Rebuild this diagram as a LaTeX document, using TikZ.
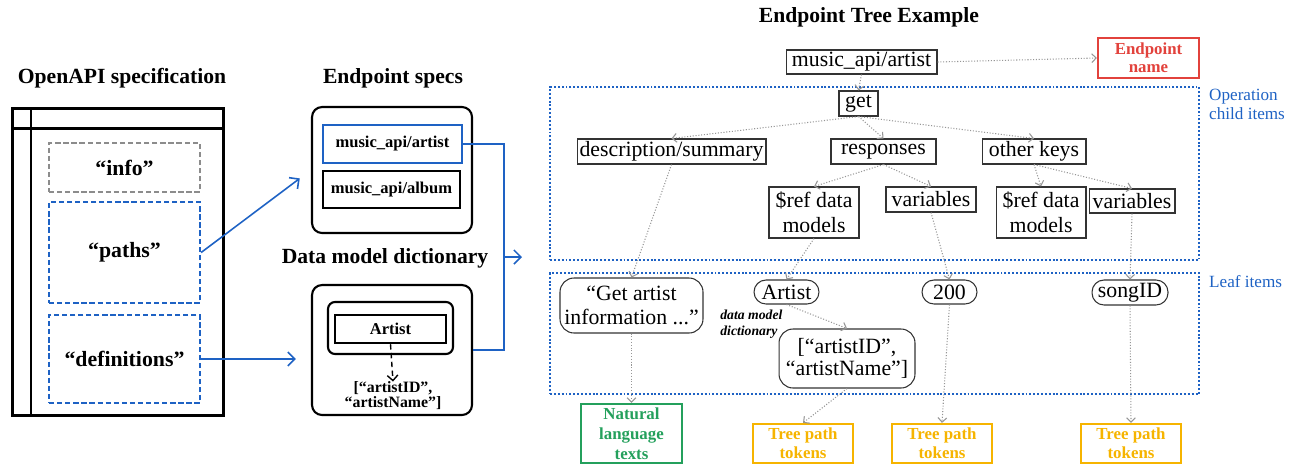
\documentclass[tikz,border=0pt]{standalone}
\usepackage{fontspec}
\setmainfont{Liberation Serif}
\usepackage{tikz}
\usetikzlibrary{arrows.meta, positioning}

\definecolor{specblue}{RGB}{30,98,196}
\definecolor{namered}{RGB}{226,66,60}
\definecolor{textgreen}{RGB}{36,160,92}
\definecolor{tokenorange}{RGB}{246,180,0}
\definecolor{linkgray}{RGB}{150,150,150}

\begin{document}
\begin{tikzpicture}[x=0.02cm, y=-0.02cm,
  title/.style={font=\fontsize{12.3}{14}\selectfont\bfseries},
  frame/.style={draw, line width=1.7pt},
  section/.style={draw=specblue, dash pattern=on 3pt off 1.6pt, line width=1.3pt, minimum width=3.02cm, inner sep=0pt, font=\fontsize{12.4}{14}\selectfont\bfseries},
  holder/.style={draw, rounded corners=0.2cm, line width=1.2pt, minimum width=3.2cm, inner sep=0pt},
  entry/.style={draw, line width=1.4pt, inner sep=0pt, font=\fontsize{9.4}{10}\selectfont\bfseries},
  area/.style={draw=specblue, dash pattern=on 1.1pt off 1.1pt, line width=1.1pt, minimum width=12.98cm, inner sep=0pt},
  areatext/.style={text=specblue, anchor=west, align=left, font=\fontsize{9.75}{10.8}\selectfont},
  treebox/.style={draw=black!80, line width=0.6pt, inner sep=0pt, align=center, font=\fontsize{12.4}{14.2}\selectfont},
  leaf/.style={treebox, rounded corners=0.24cm},
  outbox/.style={draw, line width=1.3pt, inner sep=0pt, align=center, font=\fontsize{9.6}{11}\selectfont\bfseries},
  bluearrow/.style={draw=specblue, line width=0.9pt, -{Straight Barb[length=4pt, width=8pt]}},
  blueline/.style={draw=specblue, line width=0.9pt},
  link/.style={draw=linkgray, densely dotted, line width=0.6pt, -{Straight Barb[length=2.5pt, width=5pt]}}
]
  \useasboundingbox (0,0) rectangle (1293,464);

  % OpenAPI specification
  \node[title] (opentitle) at (122,78) {OpenAPI specification};
  \node[frame, minimum width=4.24cm, minimum height=6.16cm, inner sep=0pt] (spec) at (118,262) {};
  \draw[frame] (31,108) -- (31,416);
  \draw[frame] (12,128) -- (224,128);
  \node[section, draw=black!45, minimum height=0.98cm] (info) at (124.5,167.5) {“info”};
  \node[section, minimum height=2.02cm] (paths) at (124.5,252.5) {“paths”};
  \node[section, minimum height=1.76cm] (defs) at (124.5,359) {“definitions”};

  % endpoint specs and data models
  \node[title] (spectitle) at (393,78) {Endpoint specs};
  \node[holder, minimum height=2.52cm] (specbox) at (392,170) {};
  \node[entry, draw=specblue, minimum width=2.78cm, minimum height=0.76cm] (ep1) at (392.5,144) {music\_api/artist};
  \node[entry, minimum width=2.74cm, minimum height=0.74cm] (ep2) at (391.5,189.5) {music\_api/album};
  \node[title] (dicttitle) at (385,258) {Data model dictionary};
  \node[holder, minimum height=2.6cm] (dmbox) at (392,350) {};
  \node[draw, rounded corners=0.14cm, line width=1.2pt, minimum width=2.5cm, minimum height=1.04cm] (dmin) at (390.5,328) {};
  \node[entry, minimum width=2.22cm, minimum height=0.56cm] (dartist) at (390.5,329) {Artist};
  \node[font=\fontsize{9}{8.6}\selectfont\bfseries, align=center, inner sep=0pt] (dlist) at (393,396) {[“artistID”,\\“artistName”]};
  \draw[densely dashed, line width=0.8pt, -{Straight Barb[length=3pt, width=6pt]}] (dartist.south) -- (dlist.north);

  \draw[bluearrow, shorten >=0.28cm] (paths.east) -- (specbox.west);
  \draw[bluearrow, shorten >=0.3cm] (defs.east) -- (defs.east -| dmbox.west);
  \coordinate (join) at (504,257);
  \coordinate (treein) at (522,257);
  \draw[blueline] (ep1.east) -| (join) |- (dmbox.east);
  \draw[bluearrow] (join) -- (treein);

  % endpoint tree
  \node[title] (treetitle) at (869,17) {Endpoint Tree Example};
  \node[area, minimum height=3.46cm] (opbox) at (874.5,173.5) {};
  \node[area, minimum height=2.42cm] (leafbox) at (874.5,333.5) {};
  \node[areatext] (optext) at (1203,104) {Operation\\child items};
  \node[areatext] (leaftext) at (1203,282) {Leaf items};

  \node[treebox, minimum width=3.02cm, minimum height=0.48cm] (ep) at (861.5,62) {music\_api/artist};
  \node[outbox, draw=namered, text=namered, minimum width=2.02cm, minimum height=0.8cm, font=\fontsize{9.6}{10.2}\selectfont\bfseries] (epname) at (1148.5,58) {Endpoint\\name};

  \node[treebox, minimum width=0.78cm, minimum height=0.5cm] (get) at (858.5,103.5) {get};
  \node[treebox, minimum width=3.78cm, minimum height=0.5cm] (desc) at (671.5,151.5) {description/summary};
  \node[treebox, minimum width=2.1cm, minimum height=0.5cm] (resp) at (883.5,151.5) {responses};
  \node[treebox, minimum width=2.08cm, minimum height=0.5cm] (other) at (1034,151.5) {other keys};
  \node[treebox, minimum width=1.8cm, minimum height=1.02cm] (ref1) at (814,212.5) {\$ref data\\models};
  \node[treebox, minimum width=1.8cm, minimum height=0.5cm] (var1) at (931,199.5) {variables};
  \node[treebox, minimum width=1.8cm, minimum height=1.02cm] (ref2) at (1041,212.5) {\$ref data\\models};
  \node[treebox, minimum width=1.72cm, minimum height=0.48cm] (var2) at (1132,201) {variables};

  \node[leaf, rounded corners=0.28cm, minimum width=2.86cm, minimum height=1.1cm, font=\fontsize{12.4}{13.3}\selectfont] (getinfo) at (631.5,305.5) {“Get artist\\information ...”};
  \node[leaf, minimum width=1.3cm, minimum height=0.48cm] (artist) at (786.5,292) {Artist};
  \node[anchor=west, align=left, inner sep=0pt, font=\fontsize{7.8}{9}\selectfont\bfseries\itshape] (dmnote) at (720,324) {data model\\dictionary};
  \node[leaf, rounded corners=0.28cm, minimum width=2.72cm, minimum height=1.18cm, font=\fontsize{12.4}{12.8}\selectfont] (fields) at (847,358.5) {[“artistID”,\\“artistName”]};
  \node[leaf, minimum width=1.1cm, minimum height=0.48cm] (n200) at (949.5,292) {200};
  \node[leaf, minimum width=1.52cm, minimum height=0.5cm] (song) at (1130,292.5) {songID};

  \node[outbox, draw=textgreen, text=textgreen, minimum width=2.02cm, minimum height=1.18cm, font=\fontsize{9.6}{11.3}\selectfont\bfseries] (natural) at (631.5,433.5) {Natural\\language\\texts};
  \node[outbox, draw=tokenorange, text=tokenorange, minimum width=2cm, minimum height=0.78cm] (tok1) at (803,443.5) {Tree path\\tokens};
  \node[outbox, draw=tokenorange, text=tokenorange, minimum width=2cm, minimum height=0.78cm] (tok2) at (942,443.5) {Tree path\\tokens};
  \node[outbox, draw=tokenorange, text=tokenorange, minimum width=2cm, minimum height=0.78cm] (tok3) at (1131,443.5) {Tree path\\tokens};

  \draw[link] (ep.east) -- (epname.west);
  \draw[link] (ep.south) -- (get.north);
  \draw[link] (get.south) -- (desc.north);
  \draw[link] (get.south) -- (resp.north);
  \draw[link] (get.south) -- (other.north);
  \draw[link] (resp.south) -- (ref1.north);
  \draw[link] (resp.south) -- (var1.north);
  \draw[link] (other.south) -- (ref2.north);
  \draw[link] (other.south) -- (var2.north);
  \draw[link] (desc.south) -- (getinfo.north);
  \draw[link] (ref1.south) -- (artist.north);
  \draw[link] (var1.south) -- (n200.north);
  \draw[link] (var2.south) -- (song.north);
  \draw[link] (artist.south) -- (fields.north);
  \draw[link] (getinfo.south) -- (natural.north);
  \draw[link] (fields.south) -- (tok1.north);
  \draw[link] (n200.south) -- (tok2.north);
  \draw[link] (song.south) -- (tok3.north);
\end{tikzpicture}
\end{document}
